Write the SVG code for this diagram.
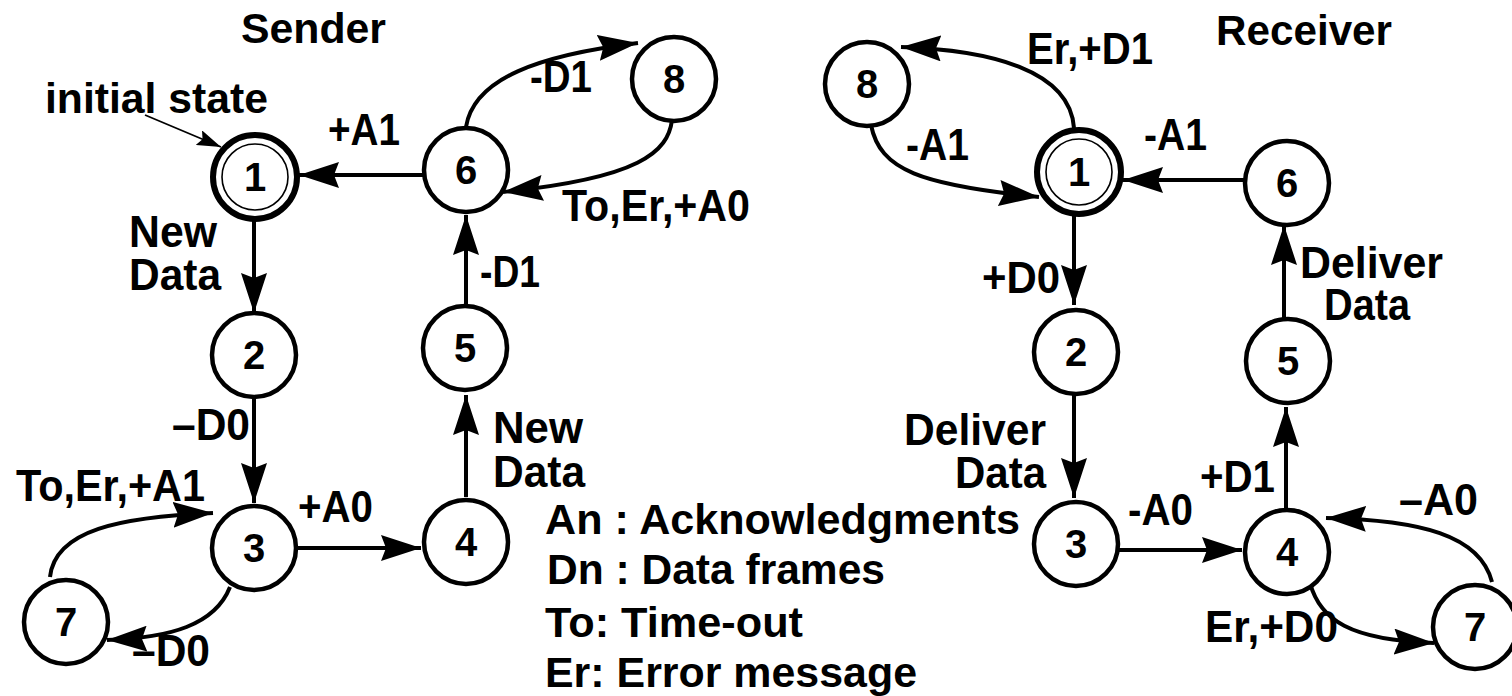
<svg xmlns="http://www.w3.org/2000/svg" width="1512" height="696" viewBox="0 0 1512 696">
  <style>
    .node circle { fill: #fff; stroke: #000; stroke-width: 4.5; }
    .node circle.outer { stroke-width: 6; }
    .node circle.inner { fill: none; stroke-width: 1.6; }
    .node text { font-family: "Liberation Sans", Arial, sans-serif; font-weight: bold; font-size: 40px; text-anchor: middle; fill: #000; }
    .edge { fill: none; stroke: #000; stroke-width: 4; marker-end: url(#head); }
    .thin { fill: none; stroke: #000; stroke-width: 1.8; marker-end: url(#smallhead); }
    .lbl { font-family: "Liberation Sans", Arial, sans-serif; font-weight: bold; font-size: 44px; fill: #000; }
    .big { font-size: 42px; }
  </style>
  <defs>
    <marker id="head" markerUnits="userSpaceOnUse" viewBox="0 0 40 26" markerWidth="40" markerHeight="26" refX="40" refY="13" orient="auto">
      <path d="M0,0 L40,13 L0,26 L5,13 z" fill="#000"/>
    </marker>
    <marker id="smallhead" markerUnits="userSpaceOnUse" viewBox="0 0 24 16" markerWidth="24" markerHeight="16" refX="24" refY="8" orient="auto">
      <path d="M0,0 L24,8 L0,16 L4,8 z" fill="#000"/>
    </marker>
  </defs>
  <rect width="1512" height="696" fill="#fff"/>

  <!-- connectors -->
  <g id="connectors">
    <!-- sender -->
    <path class="thin" d="M145,115 L221,147"/>
    <path class="edge" d="M424,175 L299,175"/>
    <path class="edge" d="M254,220 L254,313"/>
    <path class="edge" d="M254,398 L254,503"/>
    <path class="edge" d="M295,548 L421,548"/>
    <path class="edge" d="M466,497 L466,395"/>
    <path class="edge" d="M466,307 L466,215"/>
    <path class="edge" d="M466,127 C474,78 540,55 638,43"/>
    <path class="edge" d="M672,120 C668,152 640,178 503,192"/>
    <path class="edge" d="M50,577 C55,530 120,517 213,513"/>
    <path class="edge" d="M230,587 C215,625 170,638 107,640"/>
    <!-- receiver -->
    <path class="edge" d="M1247,180 L1123,180"/>
    <path class="edge" d="M1074,212 L1074,305"/>
    <path class="edge" d="M1074,393 L1074,498"/>
    <path class="edge" d="M1117,550 L1242,550"/>
    <path class="edge" d="M1286,512 L1286,407"/>
    <path class="edge" d="M1284,320 L1284,225"/>
    <path class="edge" d="M1074,128 C1070,70 990,50 901,47"/>
    <path class="edge" d="M871,125 C880,170 920,185 1039,197"/>
    <path class="edge" d="M1492,582 C1480,535 1420,520 1326,518"/>
    <path class="edge" d="M1310,583 C1320,620 1350,640 1434,643"/>
  </g>

  <!-- sender states -->
  <g id="s1" class="node"><circle class="outer" cx="255" cy="177" r="42"/><circle class="inner" cx="255" cy="177" r="33"/><text x="255" y="191">1</text></g>
  <g id="s2" class="node"><circle cx="254" cy="355" r="42"/><text x="254" y="369">2</text></g>
  <g id="s3" class="node"><circle cx="254" cy="548" r="42"/><text x="254" y="562">3</text></g>
  <g id="s4" class="node"><circle cx="466" cy="542" r="42"/><text x="466" y="556">4</text></g>
  <g id="s5" class="node"><circle cx="465" cy="348" r="42"/><text x="465" y="362">5</text></g>
  <g id="s6" class="node"><circle cx="466" cy="170" r="42"/><text x="466" y="184">6</text></g>
  <g id="s7" class="node"><circle cx="66" cy="622" r="42"/><text x="66" y="636">7</text></g>
  <g id="s8" class="node"><circle cx="674" cy="79" r="42"/><text x="674" y="93">8</text></g>

  <!-- receiver states -->
  <g id="r1" class="node"><circle class="outer" cx="1079" cy="172" r="42"/><circle class="inner" cx="1079" cy="172" r="33"/><text x="1079" y="186">1</text></g>
  <g id="r2" class="node"><circle cx="1076" cy="352" r="42"/><text x="1076" y="366">2</text></g>
  <g id="r3" class="node"><circle cx="1076" cy="544" r="42"/><text x="1076" y="558">3</text></g>
  <g id="r4" class="node"><circle cx="1287" cy="552" r="42"/><text x="1287" y="566">4</text></g>
  <g id="r5" class="node"><circle cx="1288" cy="361" r="42"/><text x="1288" y="375">5</text></g>
  <g id="r6" class="node"><circle cx="1287" cy="183" r="42"/><text x="1287" y="197">6</text></g>
  <g id="r7" class="node"><circle cx="1475" cy="627" r="42"/><text x="1475" y="641">7</text></g>
  <g id="r8" class="node"><circle cx="867" cy="84" r="42"/><text x="867" y="98">8</text></g>

  <!-- titles and transition labels -->
  <g id="labels">
    <text class="lbl big" x="241" y="43" textLength="145" lengthAdjust="spacingAndGlyphs">Sender</text>
    <text class="lbl big" x="45" y="113" textLength="223" lengthAdjust="spacingAndGlyphs">initial state</text>
    <text class="lbl" x="328" y="145" textLength="72" lengthAdjust="spacingAndGlyphs">+A1</text>
    <text class="lbl" x="530" y="92" textLength="62" lengthAdjust="spacingAndGlyphs">-D1</text>
    <text class="lbl" x="562" y="221" textLength="188" lengthAdjust="spacingAndGlyphs">To,Er,+A0</text>
    <text class="lbl" x="129" y="247" textLength="88" lengthAdjust="spacingAndGlyphs">New</text>
    <text class="lbl" x="129" y="290" textLength="92" lengthAdjust="spacingAndGlyphs">Data</text>
    <text class="lbl" x="480" y="287" textLength="60" lengthAdjust="spacingAndGlyphs">-D1</text>
    <text class="lbl" x="172" y="440" textLength="78" lengthAdjust="spacingAndGlyphs">–D0</text>
    <text class="lbl" x="493" y="443" textLength="90" lengthAdjust="spacingAndGlyphs">New</text>
    <text class="lbl" x="493" y="487" textLength="92" lengthAdjust="spacingAndGlyphs">Data</text>
    <text class="lbl" x="16" y="501" textLength="189" lengthAdjust="spacingAndGlyphs">To,Er,+A1</text>
    <text class="lbl" x="298" y="522" textLength="75" lengthAdjust="spacingAndGlyphs">+A0</text>
    <text class="lbl" x="132" y="666" textLength="78" lengthAdjust="spacingAndGlyphs">–D0</text>

    <text class="lbl big" x="1216" y="45" textLength="176" lengthAdjust="spacingAndGlyphs">Receiver</text>
    <text class="lbl" x="1027" y="64" textLength="126" lengthAdjust="spacingAndGlyphs">Er,+D1</text>
    <text class="lbl" x="906" y="160" textLength="63" lengthAdjust="spacingAndGlyphs">-A1</text>
    <text class="lbl" x="1144" y="150" textLength="63" lengthAdjust="spacingAndGlyphs">-A1</text>
    <text class="lbl" x="982" y="293" textLength="78" lengthAdjust="spacingAndGlyphs">+D0</text>
    <text class="lbl" x="1300" y="278" textLength="143" lengthAdjust="spacingAndGlyphs">Deliver</text>
    <text class="lbl" x="1324" y="320" textLength="86" lengthAdjust="spacingAndGlyphs">Data</text>
    <text class="lbl" x="904" y="445" textLength="142" lengthAdjust="spacingAndGlyphs">Deliver</text>
    <text class="lbl" x="955" y="488" textLength="91" lengthAdjust="spacingAndGlyphs">Data</text>
    <text class="lbl" x="1128" y="525" textLength="65" lengthAdjust="spacingAndGlyphs">-A0</text>
    <text class="lbl" x="1200" y="492" textLength="75" lengthAdjust="spacingAndGlyphs">+D1</text>
    <text class="lbl" x="1399" y="515" textLength="79" lengthAdjust="spacingAndGlyphs">–A0</text>
    <text class="lbl" x="1205" y="642" textLength="133" lengthAdjust="spacingAndGlyphs">Er,+D0</text>
  </g>

  <!-- legend -->
  <g id="legend">
    <text class="lbl big" x="545" y="534" textLength="475" lengthAdjust="spacingAndGlyphs">An : Acknowledgments</text>
    <text class="lbl big" x="547" y="584" textLength="338" lengthAdjust="spacingAndGlyphs">Dn : Data frames</text>
    <text class="lbl big" x="545" y="637" textLength="258" lengthAdjust="spacingAndGlyphs">To: Time-out</text>
    <text class="lbl big" x="545" y="687" textLength="372" lengthAdjust="spacingAndGlyphs">Er: Error message</text>
  </g>
</svg>
